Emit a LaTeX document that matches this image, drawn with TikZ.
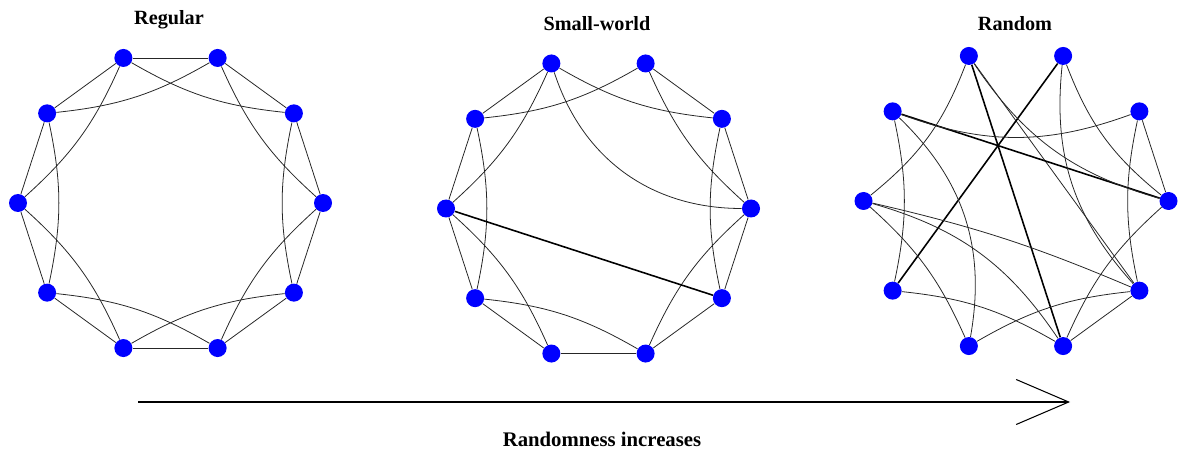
\documentclass[tikz,border=0pt]{standalone}
\usepackage{fontspec}
\setmainfont{Liberation Serif}
\usetikzlibrary{arrows.meta}

\tikzset{
  vertex/.style={circle, fill=blue, inner sep=0pt, minimum size=3.6mm},
  link/.style={black!85, line width=0.45pt},
  longlink/.style={black, line width=0.9pt},
  ringtitle/.style={font=\bfseries\fontsize{11.5}{13}\selectfont}
}

\begin{document}
\begin{tikzpicture}[>=Stealth]
    \useasboundingbox (0,0) rectangle (23.64,9.06);

    % Titles above the three rings
    \node[ringtitle] (tReg) at (3.38,8.66) {Regular};
    \node[ringtitle] (tSw)  at (11.94,8.58) {Small-world};
    \node[ringtitle] (tRnd) at (20.30,8.58) {Random};

    % Ten vertices on each ring, clockwise from the top left
    \foreach \k in {0,...,9} {
        \node[vertex] (reg\k) at ([shift={(3.41,5.00)}] {108-36*\k}:3.05) {};
        \node[vertex] (sw\k)  at ([shift={(11.97,4.89)}] {108-36*\k}:3.05) {};
        \node[vertex] (rnd\k) at ([shift={(20.32,5.04)}] {108-36*\k}:3.05) {};
    }

    % Regular: nearest and second nearest neighbours
    \foreach \k in {0,...,9} {
        \pgfmathtruncatemacro{\a}{mod(\k+1,10)}
        \pgfmathtruncatemacro{\b}{mod(\k+2,10)}
        \draw[link] (reg\k) -- (reg\a);
        \draw[link] (reg\k) to[bend right=12] (reg\b);
    }

    % Small-world: the same ring with two links rewired
    \foreach \i/\j in {1/2,2/3,3/4,4/5,5/6,6/7,7/8,8/9,9/0}
        \draw[link] (sw\i) -- (sw\j);
    \foreach \i/\j in {0/2,1/3,2/4,3/5,5/7,6/8,7/9,8/0,9/1}
        \draw[link] (sw\i) to[bend right=12] (sw\j);
    \draw[link] (sw0) to[bend right=36] (sw3);
    \draw[longlink] (sw8) -- (sw4);

    % Random: every link placed at random
    \foreach \i/\j in {2/3,5/4,0/4}
        \draw[link] (rnd\i) -- (rnd\j);
    \foreach \i/\j in {0/5,1/7,9/3}
        \draw[longlink] (rnd\i) -- (rnd\j);
    \foreach \i/\j/\b in {8/0/15,1/3/15,7/9/12,2/4/12,6/8/12,5/7/12,4/6/12,3/5/12,
                          1/4/24,9/2/20,0/3/20,5/8/20,6/9/28,4/8/5}
        \draw[link] (rnd\i) to[bend right=\b] (rnd\j);

    % Arrow and its label
    \coordinate (arrStart) at (2.76,1.02);
    \coordinate (arrEnd) at (21.40,1.02);
    \draw[line width=0.6pt, -{Straight Barb[length=10.5mm, width=9mm]}] (arrStart) -- (arrEnd);
    \node[ringtitle, font=\bfseries\fontsize{11.8}{14}\selectfont] (arrLabel) at (12.04,0.27) {Randomness increases};
\end{tikzpicture}
\end{document}
